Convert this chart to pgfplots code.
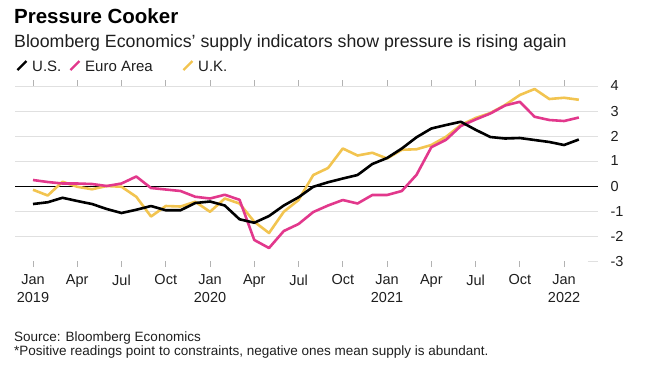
\documentclass[border=0pt]{standalone}
\usepackage{fontspec}
\setmainfont{Liberation Sans}
\usepackage{pgfplots}
\pgfplotsset{compat=1.18}
\definecolor{eupink}{RGB}{226,56,140}
\definecolor{ukyel}{RGB}{242,196,80}
\definecolor{gridc}{RGB}{224,224,224}
\definecolor{txt}{RGB}{30,30,30}

\pgfplotstableread{
m us eu uk
0 -0.72 0.24 -0.15
1 -0.65 0.16 -0.38
2 -0.47 0.10 0.17
3 -0.60 0.10 -0.03
4 -0.72 0.08 -0.13
5 -0.92 0.00 0.00
6 -1.08 0.10 -0.03
7 -0.95 0.38 -0.43
8 -0.80 -0.08 -1.22
9 -0.97 -0.14 -0.80
10 -0.97 -0.20 -0.82
11 -0.68 -0.43 -0.63
12 -0.62 -0.50 -1.03
13 -0.78 -0.35 -0.50
14 -1.33 -0.55 -0.70
15 -1.47 -2.16 -1.43
16 -1.20 -2.48 -1.88
17 -0.78 -1.80 -1.03
18 -0.45 -1.52 -0.56
19 -0.03 -1.04 0.44
20 0.15 -0.78 0.72
21 0.30 -0.56 1.50
22 0.44 -0.70 1.22
23 0.88 -0.36 1.33
24 1.12 -0.36 1.10
25 1.50 -0.20 1.45
26 1.95 0.45 1.47
27 2.30 1.55 1.64
28 2.44 1.85 1.97
29 2.57 2.40 2.44
30 2.25 2.66 2.72
31 1.96 2.90 2.92
32 1.90 3.22 3.24
33 1.92 3.37 3.64
34 1.84 2.77 3.88
35 1.76 2.64 3.48
36 1.64 2.60 3.53
37 1.86 2.74 3.45
}\datatable

\begin{document}
\begin{tikzpicture}[x=1bp,y=1bp]
\path[use as bounding box] (0,0) rectangle (655,-371);
\node[anchor=base west, inner sep=0pt, font=\fontsize{20.5bp}{24bp}\selectfont\bfseries] at (14,-23) {Pressure Cooker};
\node[anchor=base west, inner sep=0pt, font=\fontsize{17.75bp}{21bp}\selectfont, text=txt] at (14,-47) {Bloomberg Economics’ supply indicators show pressure is rising again};
% legend
\draw[black, line width=2.4bp] (17.5,-70) -- (26.5,-61);
\node[anchor=base west, inner sep=0pt, font=\fontsize{15bp}{18bp}\selectfont, text=txt] at (32,-71) {U.S.};
\draw[eupink, line width=2.4bp] (70.5,-70) -- (79.5,-61);
\node[anchor=base west, inner sep=0pt, font=\fontsize{15bp}{18bp}\selectfont, text=txt] at (85,-71) {Euro Area};
\draw[ukyel, line width=2.4bp] (183.5,-70) -- (192.5,-61);
\node[anchor=base west, inner sep=0pt, font=\fontsize{15bp}{18bp}\selectfont, text=txt] at (198,-71) {U.K.};
% footer
\node[anchor=base west, inner sep=0pt, font=\fontsize{13.5bp}{16bp}\selectfont, text=txt] at (14,-341) {Source: Bloomberg Economics};
\node[anchor=base west, inner sep=0pt, font=\fontsize{13.5bp}{16bp}\selectfont, text=txt] at (14,-355.5) {*Positive readings point to constraints, negative ones mean supply is abundant.};

\begin{axis}[
  at={(15bp,-261bp)}, anchor=south west,
  scale only axis, width=583bp, height=175bp,
  xmin=-1.22, xmax=38.3, ymin=-3, ymax=4,
  axis line style={draw=none},
  clip=false,
  xtick={0,3,...,36},
  xticklabels={Jan\\2019,Apr,Jul,Oct,Jan\\2020,Apr,Jul,Oct,Jan\\2021,Apr,Jul,Oct,Jan\\2022},
  x tick label style={align=center, font=\fontsize{14.5bp}{18bp}\selectfont, text=txt, yshift=-4bp},
  tick align=outside, major tick length=6bp,
  x tick style={gray!60, line width=0.7bp},
  ytick={-2,...,4},
  yticklabels={-2,-1,0,1,2,3,4},
  extra y ticks={-3}, extra y tick labels={-3},
  extra y tick style={grid=none},
  yticklabel pos=right,
  y tick style={draw=none},
  y tick label style={anchor=west, font=\fontsize{14.5bp}{18bp}\selectfont, text=txt, xshift=3bp},
  ymajorgrids, grid style={gridc, line width=0.8bp},
]
\draw[black, line width=0.9bp] (axis cs:-1.22,0) -- (axis cs:38.3,0);
\draw[gridc, line width=0.8bp] (axis cs:37.6,-3) -- (axis cs:38.3,-3);
\addplot[ukyel, line width=2.6bp, line join=round] table[x=m, y=uk] {\datatable};
\addplot[eupink, line width=2.6bp, line join=round] table[x=m, y=eu] {\datatable};
\addplot[black, line width=2.6bp, line join=round] table[x=m, y=us] {\datatable};
\end{axis}
\end{tikzpicture}
\end{document}
